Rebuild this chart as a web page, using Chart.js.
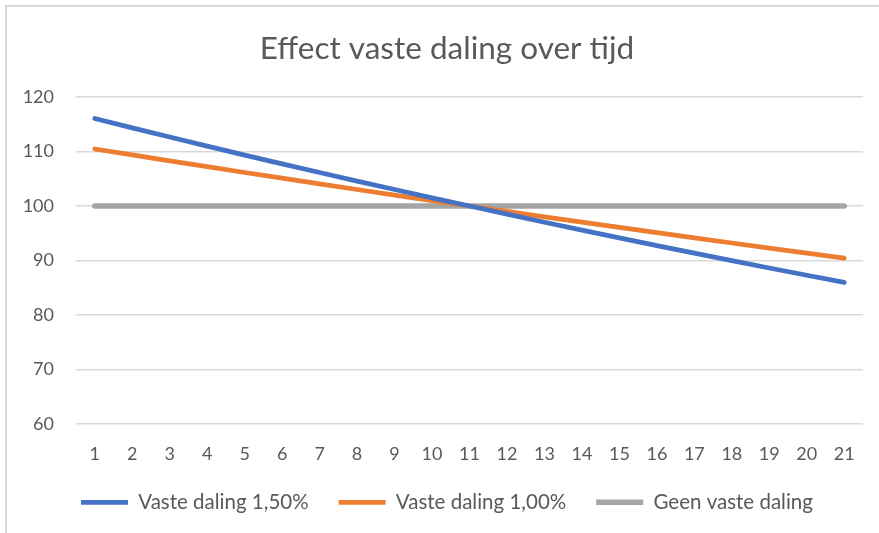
<!DOCTYPE html>
<html>
<head>
<meta charset="utf-8">
<script src="https://cdn.jsdelivr.net/npm/chart.js@4.4.1/dist/chart.umd.min.js"></script>
<style>
  html, body { margin:0; padding:0; background:#fff; }
  #wrap { position:relative; width:879px; height:533px; overflow:hidden; }
  #frame { position:absolute; left:5px; top:5px; width:900px; height:600px;
           border-top:2px solid #d9d9d9; border-left:2px solid #d9d9d9; }
  #c { position:absolute; left:0; top:0; }
</style>
</head>
<body>
<div id="wrap">
  <div id="frame"></div>
  <canvas id="c" width="879" height="533"></canvas>
</div>
<script>
// periods on the x axis
const periods = ['1','2','3','4','5','6','7','8','9','10','11','12','13','14','15','16','17','18','19','20','21'];

const daling150 = [116.05,114.34,112.65,110.98,109.34,107.73,106.14,104.57,103.02,101.50,100,
                   98.50,97.02,95.57,94.14,92.73,91.34,89.97,88.62,87.29,85.98];
const daling100 = [110.46,109.37,108.29,107.21,106.15,105.10,104.06,103.03,102.01,101.00,100,
                   99.00,98.01,97.03,96.06,95.10,94.15,93.21,92.27,91.35,90.44];
const geenDaling = [100,100,100,100,100,100,100,100,100,100,100,
                    100,100,100,100,100,100,100,100,100,100];

const seriesNames = ['Vaste daling 1,50%','Vaste daling 1,00%','Geen vaste daling'];
const seriesColors = ['#4472C4','#ED7D31','#A5A5A5'];

const FONT = 'Lato, "Open Sans", sans-serif';
const TXT = '#595959';

function line(label, data, color, w){
  return { label, data, borderColor:color, backgroundColor:color, borderWidth:w,
           borderCapStyle:'round', borderJoinStyle:'round', pointRadius:0, pointStyle:'line',
           tension:0, fill:false };
}

new Chart(document.getElementById('c'), {
  type:'line',
  data:{
    labels: periods,
    datasets:[
      line(seriesNames[0], daling150, seriesColors[0], 4.75),
      line(seriesNames[1], daling100, seriesColors[1], 4.75),
      line(seriesNames[2], geenDaling, seriesColors[2], 5.5)
    ]
  },
  options:{
    responsive:false,
    animation:false,
    layout:{ padding:{ left:20, right:5, top:10, bottom:10.5 } },
    plugins:{
      title:{ display:true, text:'Effect vaste daling over tijd', color:TXT,
              font:{ family:FONT, size:31.5, weight:'normal' }, padding:{ top:20, bottom:29.2 } },
      legend:{ position:'bottom',
               labels:{ usePointStyle:true, pointStyleWidth:47, color:TXT, padding:30,
                        font:{ family:FONT, size:20.5 } } },
      tooltip:{ enabled:false }
    },
    scales:{
      x:{ offset:true,
          grid:{ display:false, drawTicks:false },
          border:{ display:false },
          ticks:{ color:TXT, padding:19.2, maxRotation:0, autoSkip:false, font:{ family:FONT, size:18 } },
          afterFit(scale){ scale.height = 38; } },
      y:{ min:60, max:120,
          grid:{ color:'#d9d9d9', lineWidth:1.5, drawTicks:false },
          border:{ display:false },
          ticks:{ stepSize:10, color:TXT, padding:22, font:{ family:FONT, size:18 } },
          afterFit(scale){ scale.width = 56; } },
      // empty right-hand spacer so the plot ends where the reference does
      yr:{ position:'right', display:true,
           grid:{ display:false, drawTicks:false }, border:{ display:false },
           ticks:{ display:false },
           afterFit(scale){ scale.width = 11; } }
    }
  }
});
</script>
</body>
</html>
